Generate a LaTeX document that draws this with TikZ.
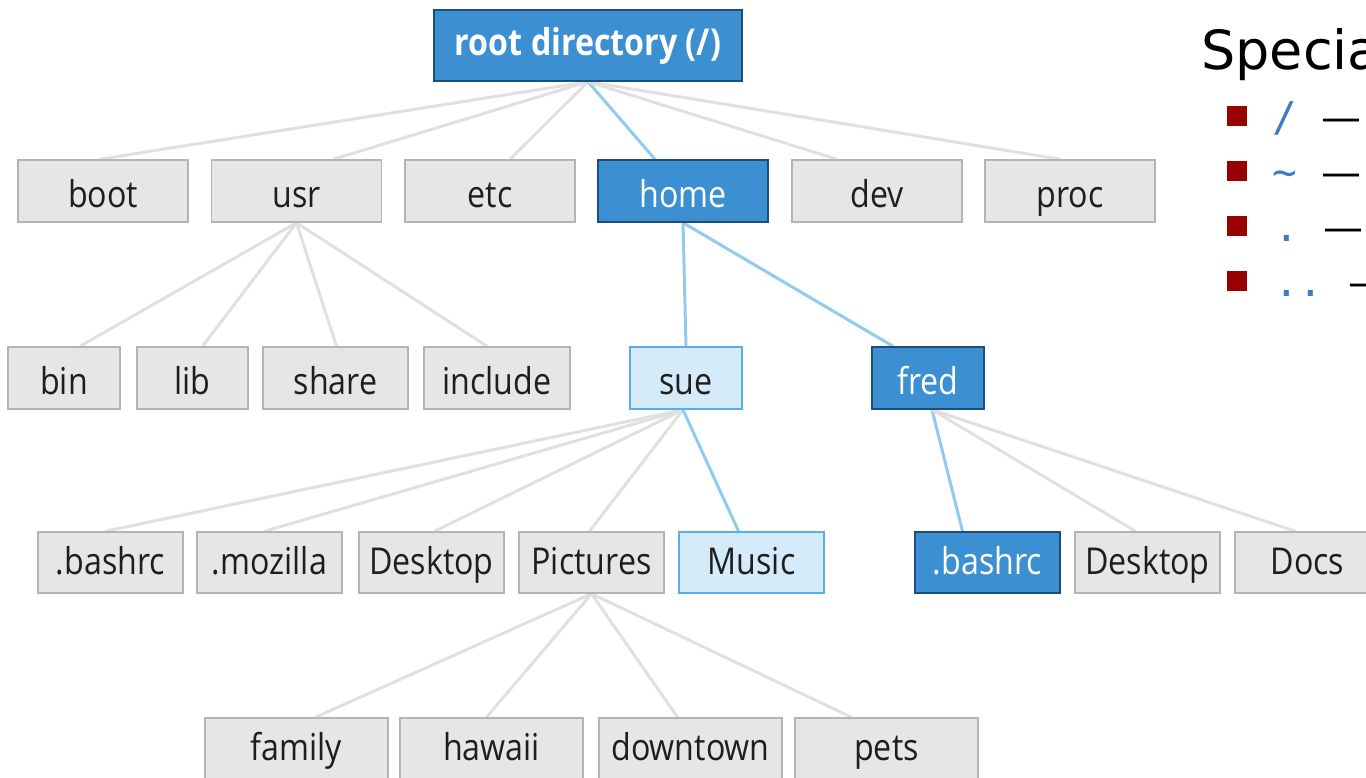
\documentclass[tikz,border=0pt]{standalone}
\usepackage{fontspec}
\setmainfont{Open Sans}
\newfontfamily\nodefont[FakeStretch=0.87]{Open Sans}
\newfontfamily\titlefont{DejaVu Sans}
\newfontfamily\codefont{DejaVu Sans Mono}
\usetikzlibrary{backgrounds}
\definecolor{gfill}{HTML}{E6E6E6}
\definecolor{gline}{HTML}{B4B4B4}
\definecolor{bfill}{HTML}{3C8FD0}
\definecolor{bline}{HTML}{1D4E7A}
\definecolor{lfill}{HTML}{D6EBF9}
\definecolor{lline}{HTML}{5AAEE8}
\definecolor{gedgec}{HTML}{E0E0E0}
\definecolor{bedgec}{HTML}{92CBF0}
\definecolor{bulletred}{HTML}{990000}
\definecolor{codeblue}{HTML}{3B7DC4}
\definecolor{txt}{HTML}{1E1E1E}
\tikzset{
  box/.style={rectangle, inner sep=0pt, line width=1.5pt,
    font=\nodefont\fontsize{37}{40}\selectfont, text height=32pt, text depth=0pt},
  gbox/.style={box, fill=gfill, draw=gline, text=txt},
  bbox/.style={box, fill=bfill, draw=bline, text=white},
  lbox/.style={box, fill=lfill, draw=lline, text=txt},
  sz/.style 2 args={minimum width=#1pt, minimum height=#2pt},
  row2/.style={sz={170}{62}},
  row3/.style={minimum height=62pt},
  row4/.style={sz={145}{61}, text height=24pt},
  row5/.style={sz={183}{62}, text height=22pt},
  gedge/.style={draw=gedgec, line width=3pt},
  bedge/.style={draw=bedgec, line width=3pt},
  bulletsq/.style={fill=bulletred, draw=none},
  listtext/.style={anchor=base west, inner sep=0pt, font=\titlefont\fontsize{40}{44}\selectfont, text=black}
}
\begin{document}
\begin{tikzpicture}[x=1pt,y=-1pt]
\useasboundingbox (0,0) rectangle (1366,777);
\clip (0,0) rectangle (1366,777);

% root
\node[bbox, sz={308}{71}, font=\nodefont\bfseries\fontsize{37}{40}\selectfont, text height=19pt] (root) at (588,45.5) {root directory (/)};

% row 2
\node[gbox,row2] (boot) at (103,191) {boot};
\node[gbox,row2] (usr) at (296.5,191) {usr};
\node[gbox,row2] (etc) at (490,191) {etc};
\node[bbox,row2] (home) at (683,191) {home};
\node[gbox,row2] (dev) at (877,191) {dev};
\node[gbox,row2] (proc) at (1070,191) {proc};

% row 3
\node[gbox,row3,minimum width=112pt] (bin) at (64,378) {bin};
\node[gbox,row3,minimum width=111pt] (lib) at (192.5,378) {lib};
\node[gbox,row3,minimum width=145pt] (share) at (335.5,378) {share};
\node[gbox,row3,minimum width=146pt] (include) at (497,378) {include};
\node[lbox,row3,minimum width=112pt] (sue) at (686,378) {sue};
\node[bbox,row3,minimum width=112pt] (fred) at (928,378) {fred};

% row 4
\node[gbox,row4] (sbashrc) at (110.5,562.5) {.bashrc};
\node[gbox,row4] (mozilla) at (269.5,562.5) {.mozilla};
\node[gbox,row4] (sdesktop) at (431.5,562.5) {Desktop};
\node[gbox,row4] (pictures) at (591.5,562.5) {Pictures};
\node[lbox,row4] (music) at (751.5,562.5) {Music};
\node[bbox,row4] (fbashrc) at (987.5,562.5) {.bashrc};
\node[gbox,row4] (fdesktop) at (1147.5,562.5) {Desktop};
\node[gbox,row4] (docs) at (1307.5,562.5) {Docs};

% row 5
\node[gbox,row5] (family) at (296.5,749) {family};
\node[gbox,row5] (hawaii) at (491.5,749) {hawaii};
\node[gbox,row5] (downtown) at (690.5,749) {downtown};
\node[gbox,row5] (pets) at (886.5,749) {pets};

\begin{pgfonlayer}{background}
\draw[gedge] (root.south) -- ([xshift=-3pt]boot.north);
\draw[gedge] (root.south) -- ([xshift=37pt]usr.north);
\draw[gedge] (root.south) -- ([xshift=20pt]etc.north);
\draw[bedge] (root.south) -- ([xshift=-28pt]home.north);
\draw[gedge] (root.south) -- ([xshift=-40pt]dev.north);
\draw[gedge] (root.south) -- ([xshift=-10pt]proc.north);
\draw[gedge] (usr.south) -- ([xshift=16pt]bin.north);
\draw[gedge] (usr.south) -- ([xshift=10pt]lib.north);
\draw[gedge] (usr.south) -- ([xshift=1pt]share.north);
\draw[gedge] (usr.south) -- ([xshift=-10pt]include.north);
\draw[bedge] (home.south) -- (sue.north);
\draw[bedge] (home.south) -- ([xshift=-35pt]fred.north);
\draw[gedge] ([xshift=-3pt]sue.south) -- ([xshift=-5pt]sbashrc.north);
\draw[gedge] ([xshift=-3pt]sue.south) -- ([xshift=-5pt]mozilla.north);
\draw[gedge] ([xshift=-3pt]sue.south) -- ([xshift=3pt]sdesktop.north);
\draw[gedge] ([xshift=-3pt]sue.south) -- ([xshift=-2pt]pictures.north);
\draw[bedge] ([xshift=-3pt]sue.south) -- ([xshift=-13pt]music.north);
\draw[bedge] ([xshift=4pt]fred.south) -- ([xshift=-25pt]fbashrc.north);
\draw[gedge] ([xshift=4pt]fred.south) -- ([xshift=-12pt]fdesktop.north);
\draw[gedge] ([xshift=4pt]fred.south) -- ([xshift=-12pt]docs.north);
\draw[gedge] (pictures.south) -- ([xshift=19pt]family.north);
\draw[gedge] (pictures.south) -- ([xshift=-5pt]hawaii.north);
\draw[gedge] (pictures.south) -- ([xshift=-13pt]downtown.north);
\draw[gedge] (pictures.south) -- ([xshift=-35pt]pets.north);
\end{pgfonlayer}

% side list
\node[anchor=base west, inner sep=0pt, font=\titlefont\fontsize{54}{60}\selectfont, text=black] (title) at (1201,69) {Special};
\fill[bulletsq] (1227,106) rectangle (1247,126);
\fill[bulletsq] (1227,161) rectangle (1247,181);
\fill[bulletsq] (1227,216) rectangle (1247,236);
\fill[bulletsq] (1227,271) rectangle (1247,291);
\node[listtext] (l1) at (1272,131) {{\codefont\fontsize{41}{44}\selectfont\color{codeblue}/\ }—};
\node[listtext] (l2) at (1272,186) {{\codefont\fontsize{41}{44}\selectfont\color{codeblue}\textasciitilde\ }—};
\node[listtext] (l3) at (1274,241) {{\codefont\fontsize{41}{44}\selectfont\color{codeblue}.\ }—};
\node[listtext] (l4) at (1274,296) {{\codefont\fontsize{41}{44}\selectfont\color{codeblue}..\ }—};
\end{tikzpicture}
\end{document}
